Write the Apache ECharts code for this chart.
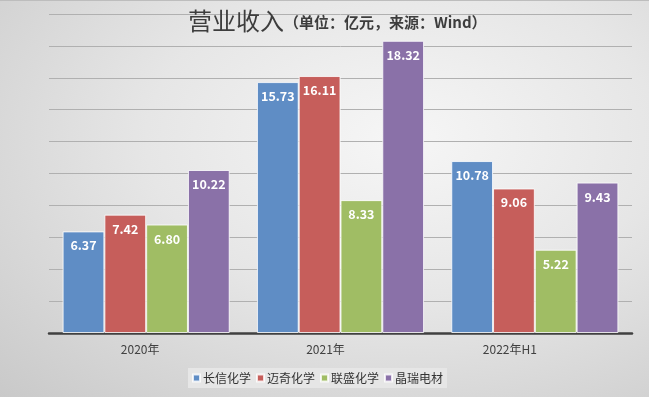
<!DOCTYPE html>
<title>营业收入</title>
<style>
body {margin: 0;}
#echart {height: 397px; width: 649px; background: radial-gradient(ellipse at 62% 35%, #f6f6f6 0%, #e6e6e6 45%, #c9c9c9 100%); box-sizing: border-box; border-top: 1px solid #bdbdbd;}
</style>
<div id='echart'></div>
<script src='https://cdn.jsdelivr.net/npm/echarts@6/dist/echarts.min.js'></script>
<script>
let categories = ['2020年', '2021年', '2022年H1']
let names = ['长信化学', '迈奇化学', '联盛化学', '晶瑞电材']
let values = [
	[6.37, 15.73, 10.78],
	[7.42, 16.11, 9.06],
	[6.80, 8.33, 5.22],
	[10.22, 18.32, 9.43],
]
let colors = ['#5f8dc5', '#c65e5b', '#a0bd64', '#8a71a8']

let font = '"Noto Sans CJK SC", "Noto Sans", sans-serif'
let echart = echarts.init(document.querySelector('#echart'))
let option = {
	textStyle: {fontFamily: font},
	title: {
		left: 183, top: 3,
		text: '{a|营业收入}{b|（单位：亿元，来源：Wind）}',
		textStyle: {rich: {
			a: {fontSize: 24, fontWeight: 'normal', color: '#3d3d3d', fontFamily: font, padding: [0, 0, 2, 0]},
			b: {fontSize: 15, fontWeight: 'bold', color: '#3d3d3d', fontFamily: font},
		}},
	},
	grid: {left: 49, right: 17, top: 13, bottom: 64},
	legend: {
		bottom: 9, left: 188, itemWidth: 7, itemHeight: 7, itemGap: 5,
		icon: 'rect', backgroundColor: '#e6e6e6', padding: [4, 4],
		textStyle: {fontSize: 12, color: '#333', padding: [0, 0, 0, -2]},
	},
	xAxis: {
		type: 'category', data: categories,
		axisLine: {lineStyle: {color: '#404040', width: 2.5}},
		axisTick: {show: false},
		axisLabel: {
			color: '#404040', fontSize: 12, margin: 10,
			formatter: (v, i) => `{r${i}|${v}}`,
			rich: {
				r0: {padding: [0, 12, 0, 0], color: '#404040'},
				r1: {padding: [0, 30, 0, 0], color: '#404040'},
				r2: {padding: [0, 50, 0, 0], color: '#404040'},
			},
		},
	},
	yAxis: {
		type: 'value', min: 0, max: 20, interval: 2,
		axisLabel: {show: false}, axisLine: {show: false}, axisTick: {show: false},
		splitLine: {lineStyle: {color: '#b0b0b0', width: 1}},
	},
	series: names.map((name, i) => ({
		type: 'bar', name: name, data: values[i],
		barGap: '0%', barCategoryGap: '14%',
		itemStyle: {color: colors[i], borderColor: 'rgba(255,255,255,0.8)', borderWidth: 1},
		label: {
			show: true, position: 'insideTop', distance: 8,
			color: '#fff', fontWeight: 'bold', fontSize: 12.5,
			formatter: p => p.value.toFixed(2),
		},
	})),
}
echart.setOption(option)
</script>
